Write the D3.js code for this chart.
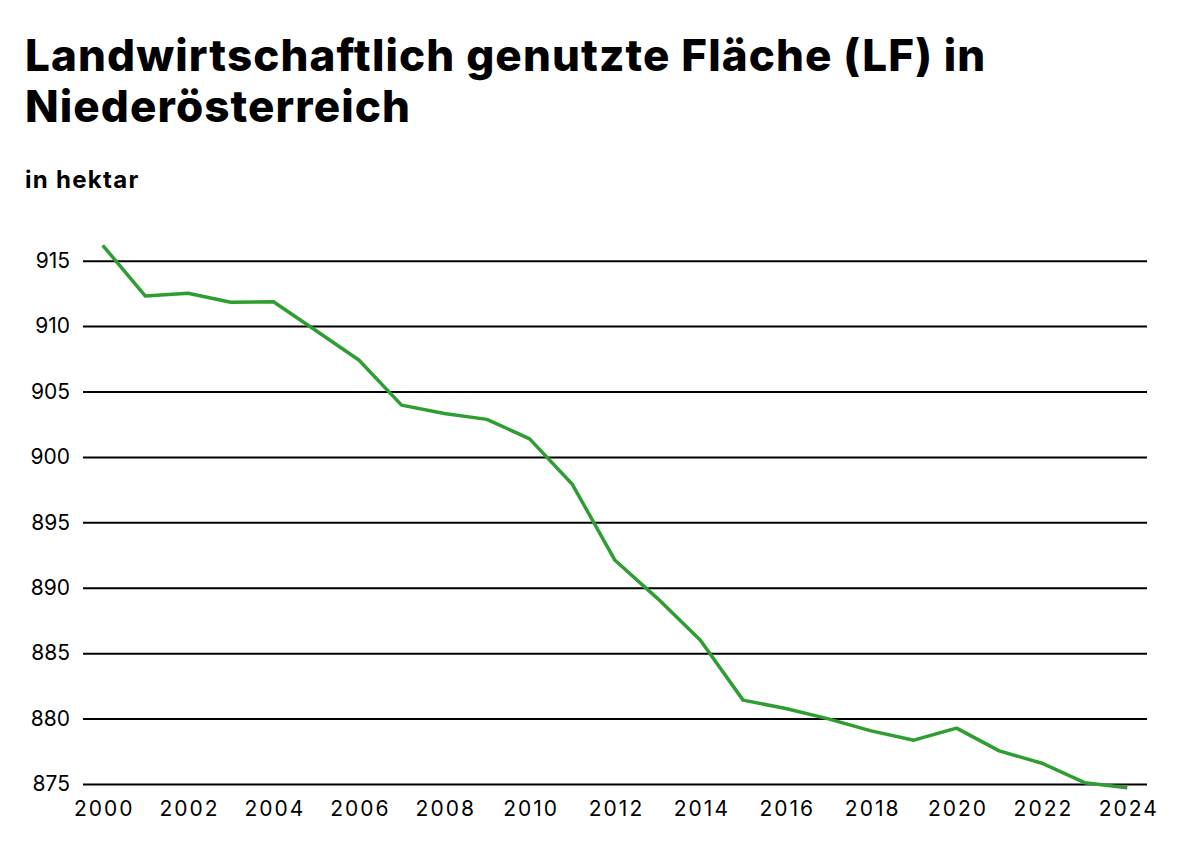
<!DOCTYPE html>
<html><head><meta charset="utf-8">
<script src="https://cdn.jsdelivr.net/npm/d3@7"></script>
<style>
body{margin:0;background:#fff;}
svg text{font-family:Inter,"Noto Sans",sans-serif;}
</style></head>
<body><svg id="c" width="1180" height="852"></svg>
<script>
const years = [2000,2001,2002,2003,2004,2005,2006,2007,2008,2009,2010,2011,2012,2013,2014,2015,2016,2017,2018,2019,2020,2021,2022,2023,2024];
const values = [916.18,912.30,912.51,911.82,911.86,909.65,907.41,903.96,903.32,902.87,901.38,897.91,892.10,889.17,885.98,881.41,880.77,879.98,879.06,878.35,879.27,877.53,876.59,875.10,874.71];
const yTicks = [875,880,885,890,895,900,905,910,915];
const xTicks = [2000,2002,2004,2006,2008,2010,2012,2014,2016,2018,2020,2022,2024];
const titleLines = ["Landwirtschaftlich genutzte Fläche (LF) in","Niederösterreich"];
const subtitle = "in hektar";

const svg = d3.select("#c");
const x = d3.scaleLinear().domain([2000,2024]).range([102.7,1127.3]);
const y = d3.scaleLinear().domain([875,915]).range([784,260.7]);
const gridL = 83, gridR = 1147;

svg.selectAll("text.title").data(titleLines).join("text")
  .attr("class","title").attr("x",25).attr("y",(d,i)=>71+i*51)
  .attr("font-size",44).attr("font-weight",800).attr("fill","#000")
  .attr("letter-spacing",1.1)
  .text(d=>d);
svg.append("text").attr("x",25).attr("y",188).attr("font-size",24)
  .attr("font-weight",700).attr("fill","#000").attr("letter-spacing",1.3).text(subtitle);

const ya = svg.append("g").attr("transform",`translate(${gridL},0)`)
  .call(d3.axisLeft(y).tickValues(yTicks).tickSize(-(gridR-gridL)).tickPadding(13).tickFormat(d3.format("d")));
ya.select(".domain").remove();
ya.selectAll(".tick line").attr("stroke","#000").attr("stroke-width",2);
ya.selectAll(".tick text").attr("font-size",21).attr("fill","#000").attr("font-family","Inter,sans-serif");

const xa = svg.append("g").attr("transform","translate(0,800)")
  .call(d3.axisBottom(x).tickValues(xTicks).tickSize(0).tickPadding(1).tickFormat(d3.format("d")));
xa.select(".domain").remove();
xa.selectAll(".tick text").attr("font-size",21).attr("fill","#000").attr("font-family","Inter,sans-serif")
  .attr("letter-spacing",2).attr("dx",1);

const line = d3.line().x((d,i)=>x(years[i])).y(d=>y(d));
svg.append("path").datum(values).attr("d",line).attr("fill","none")
  .attr("stroke","#2e9e32").attr("stroke-width",3.5).attr("stroke-linejoin","round");
</script></body></html>
